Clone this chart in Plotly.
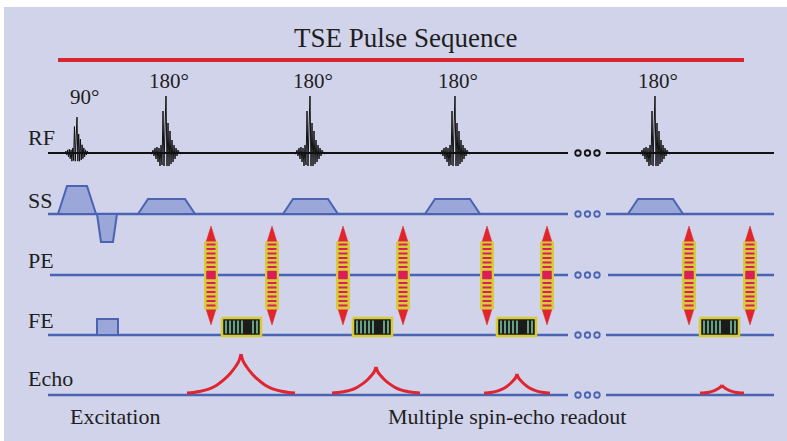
import plotly.graph_objects as go

W, H = 787, 441

# ---------------- data ----------------
TITLE = "TSE Pulse Sequence"
ROW_LABELS = ["RF", "SS", "PE", "FE", "Echo"]
ROW_Y = [153, 214, 275, 335, 395]          # baseline of each row
LABEL_Y = [137, 200, 260, 320, 378]
SEG_X0 = [48, 606]
SEG_X1 = [568, 774]
DOTS_X = [578, 587.5, 597]

RF_X = [77, 166, 310, 455, 655]
RF_TEXT = ["90°", "180°", "180°", "180°", "180°"]
RF_TEXT_Y = [97, 81, 81, 81, 81]
RF_AMP = [0.63, 1, 1, 1, 1]
RF_WID = [0.85, 1, 1, 1, 1]
RF_DX = [-16, -14, -13, -12, -11, -10, -9, -8, -7, -6,
         -5, -4, -3, -2, -1, 0, 1, 2, 3, 4,
         5, 6, 7, 8, 9, 10, 11, 12, 14, 16]
RF_DY = [0, -1, 3, -3, 5, -6, 6, -9, 5, -13,
         8, -12, 42, -13, 25, 57, -13, 30, -13, 22,
         -11, 13, -9, 8, -6, 5, -3, 3, -1, 0]

SS_START = [58, 97, 138, 283, 425, 628]
SS_RAMP = [9, 4, 10, 10, 10, 10]
SS_FLAT = [20, 12, 37, 35, 35, 35]
SS_AMP = [28, -28, 15, 15, 15, 15]

PE_X = [211, 272, 343, 403, 487, 547, 689, 750]
PE_STRIPES = [8, 12.5, 17, 21.5, 26, 30.5]

FE_PRE_X0, FE_PRE_X1, FE_PRE_H = 97, 118, 16
RO_X = [222, 353, 497, 700]
RO_LINES = [4, 8, 12, 16, 20, 31, 35]

ECHO_X = [241, 376, 517, 722]
ECHO_H = [39, 26, 19, 8]
ECHO_HALF = [54, 44, 33, 22]
ECHO_U = [0, 0.04, 0.1, 0.2, 0.3, 0.45, 0.6, 0.75, 0.88, 1.0]
ECHO_V = [1, 0.82, 0.68, 0.5, 0.36, 0.2, 0.1, 0.045, 0.015, 0.0]

BOTTOM_TEXT = ["Excitation", "Multiple spin-echo readout"]
BOTTOM_X = [68, 386]
BOTTOM_Y = 416

# ---------------- style ----------------
BG = "#D1D3EA"
BLUE = "#4A63B2"
SS_FILL = "#9AA7D8"
YELLOW = "#D8CB3A"
STRIPE = "#DA1E5A"
HEAD = "#E2252B"
GREEN = "#80D0A3"
ECHO_RED = "#DF2530"
TXT = "#1E1E1E"
FONT = "Liberation Serif"

fig = go.Figure()

def add_line(xs, ys, color, width, fill=None, fillcolor=None, shape="linear"):
    fig.add_trace(go.Scatter(x=xs, y=ys, mode="lines",
                             line=dict(color=color, width=width, shape=shape),
                             fill=fill, fillcolor=fillcolor, hoverinfo="skip"))

# title red line
add_line([58, 744], [60, 60], "#D8262E", 4)

# baselines
for i, y in enumerate(ROW_Y):
    col = "#111111" if i == 0 else BLUE
    xs, ys = [], []
    for a, b in zip(SEG_X0, SEG_X1):
        x0 = a + (2 if ROW_LABELS[i] == "PE" else 0)
        xs += [x0, b, None]
        ys += [y, y, None]
    add_line(xs, ys, col, 2 if i == 0 else 2.5)
    fig.add_trace(go.Scatter(x=DOTS_X, y=[y] * len(DOTS_X), mode="markers",
                             marker=dict(symbol="circle-open", size=5.5, color=col,
                                         line=dict(width=1.8, color=col)),
                             hoverinfo="skip"))

# RF pulses
xs, ys = [], []
for cx, a, w in zip(RF_X, RF_AMP, RF_WID):
    for dx, dy in zip(RF_DX, RF_DY):
        xs.append(cx + dx * w)
        ys.append(ROW_Y[0] - dy * a)
    xs.append(None); ys.append(None)
add_line(xs, ys, "#111111", 1.0)

# SS gradient lobes
xs, ys = [], []
y0 = ROW_Y[1]
for s, r, f, a in zip(SS_START, SS_RAMP, SS_FLAT, SS_AMP):
    xs += [s, s + r, s + r + f, s + 2 * r + f, s, None]
    ys += [y0, y0 - a, y0 - a, y0, y0, None]
add_line(xs, ys, BLUE, 2, fill="toself", fillcolor=SS_FILL)

# PE phase-encode tables
y0 = ROW_Y[2]
bx, by, hx, hy = [], [], [], []
for x in PE_X:
    bx += [x - 6.5, x + 6.5, x + 6.5, x - 6.5, x - 6.5, None]
    by += [y0 - 33, y0 - 33, y0 + 34, y0 + 34, y0 - 33, None]
    hx += [x - 5, x, x + 5, x - 5, None, x - 5, x, x + 5, x - 5, None]
    hy += [y0 - 33, y0 - 49, y0 - 33, y0 - 33, None, y0 + 34, y0 + 50, y0 + 34, y0 + 34, None]
add_line(hx, hy, HEAD, 0.5, fill="toself", fillcolor=HEAD)
add_line(bx, by, YELLOW, 1, fill="toself", fillcolor=YELLOW)
sx, sy, cx_, cy_ = [], [], [], []
for x in PE_X:
    for o in PE_STRIPES:
        for sgn in (-1, 1):
            sx += [x - 4.5, x + 4.5, None]
            sy += [y0 + sgn * o, y0 + sgn * o, None]
    cx_ += [x - 4.5, x + 4.5, x + 4.5, x - 4.5, x - 4.5, None]
    cy_ += [y0 - 4, y0 - 4, y0 + 4, y0 + 4, y0 - 4, None]
add_line(sx, sy, STRIPE, 2)
add_line(cx_, cy_, STRIPE, 0.5, fill="toself", fillcolor=STRIPE)

# FE prephaser
y0 = ROW_Y[3]
add_line([FE_PRE_X0, FE_PRE_X1, FE_PRE_X1, FE_PRE_X0, FE_PRE_X0],
         [y0, y0, y0 - FE_PRE_H, y0 - FE_PRE_H, y0], BLUE, 2,
         fill="toself", fillcolor=SS_FILL)

# FE readouts
rx, ry, gx, gy = [], [], [], []
for x in RO_X:
    rx += [x, x + 39, x + 39, x, x, None]
    ry += [y0 - 17, y0 - 17, y0 + 1, y0 + 1, y0 - 17, None]
    for o in RO_LINES:
        gx += [x + o, x + o, None]
        gy += [y0 - 14.5, y0 - 1.5, None]
add_line(rx, ry, YELLOW, 2.5, fill="toself", fillcolor="#1B1B1B")
add_line(gx, gy, GREEN, 1.5)

# Echoes (each half drawn separately so the peak stays a cusp)
xs, ys = [], []
base = ROW_Y[4] - 2
for cx, h, hw in zip(ECHO_X, ECHO_H, ECHO_HALF):
    for u, v in zip(ECHO_U[::-1], ECHO_V[::-1]):
        xs.append(cx - u * hw); ys.append(base - v * h)
    xs.append(None); ys.append(None)
    for u, v in zip(ECHO_U, ECHO_V):
        xs.append(cx + u * hw); ys.append(base - v * h)
    xs.append(None); ys.append(None)
add_line(xs, ys, ECHO_RED, 3, shape="spline")

# ---------------- text ----------------
ann = []
ann.append(dict(x=405, y=38, text=TITLE, font=dict(size=27, color=TXT, family=FONT)))
for lab, y in zip(ROW_LABELS, LABEL_Y):
    ann.append(dict(x=26, y=y, text=lab, xanchor="left", font=dict(size=22, color=TXT, family=FONT)))
for x, t, y in zip(RF_X, RF_TEXT, RF_TEXT_Y):
    ann.append(dict(x=x + (7 if t == "90°" else 3), y=y, text=t, font=dict(size=21, color=TXT, family=FONT)))
for t, x in zip(BOTTOM_TEXT, BOTTOM_X):
    ann.append(dict(x=x, y=BOTTOM_Y, text=t, xanchor="left", font=dict(size=22, color=TXT, family=FONT)))
for a in ann:
    a.update(xref="x", yref="y", showarrow=False, yanchor="middle")

fig.update_layout(
    width=W, height=H, margin=dict(l=0, r=0, t=0, b=0),
    paper_bgcolor="white", plot_bgcolor="white",
    showlegend=False, hovermode=False,
    xaxis=dict(range=[0, W], visible=False, fixedrange=True),
    yaxis=dict(range=[H, 0], visible=False, fixedrange=True),
    shapes=[dict(type="rect", xref="x", yref="y", x0=4, x1=W, y0=7, y1=H,
                 fillcolor=BG, line=dict(width=0), layer="below")],
    annotations=ann,
)
fig.write_html("out.html", config={"displayModeBar": False},
               post_script="document.body.style.margin='0';document.body.style.overflow='hidden';")
